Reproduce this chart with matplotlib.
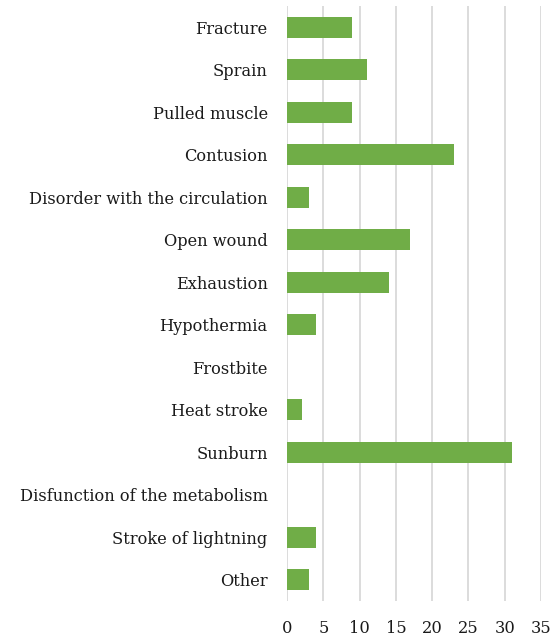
import matplotlib
matplotlib.use("Agg")
import matplotlib.pyplot as plt

categories = ["Fracture", "Sprain", "Pulled muscle", "Contusion",
              "Disorder with the circulation", "Open wound", "Exhaustion",
              "Hypothermia", "Frostbite", "Heat stroke", "Sunburn",
              "Disfunction of the metabolism", "Stroke of lightning", "Other"]
values = [9, 11, 9, 23, 3, 17, 14, 4, 0, 2, 31, 0, 4, 3]
xticks = [0, 5, 10, 15, 20, 25, 30, 35]

plt.rcParams['font.family'] = ['DejaVu Serif']

fig = plt.figure(figsize=(5.5, 6.38), dpi=100)
ax = fig.add_axes([0.522, 0.058, 0.4615, 0.9326])

pos = list(range(len(categories)))
ax.barh(pos, values, height=0.5, color='#70AD47', zorder=3)

ax.set_ylim(len(categories) - 0.5, -0.5)
ax.set_yticks(pos)
ax.set_yticklabels(categories, fontsize=11.7, color='#1a1a1a')
ax.set_xlim(0, 35)
ax.set_xticks(xticks)
ax.set_xticklabels([str(t) for t in xticks], fontsize=11.7, color='#1a1a1a')
ax.tick_params(length=0, pad=14, axis='y')
ax.tick_params(length=0, pad=14, axis='x')
ax.xaxis.grid(True, color='#d9d9d9', linewidth=1.3, zorder=0)
for s in ax.spines.values():
    s.set_visible(False)

fig.savefig("out.png", dpi=100)
